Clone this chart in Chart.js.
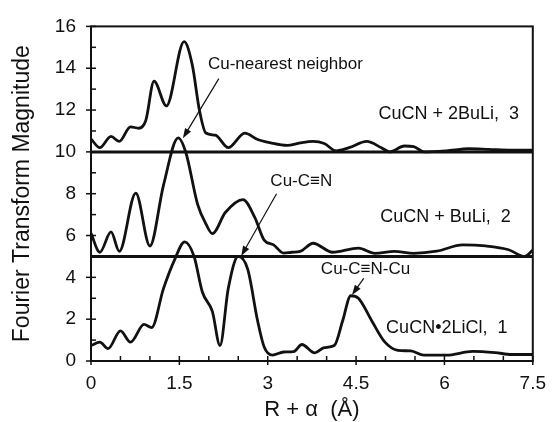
<!DOCTYPE html>
<html>
<head>
<meta charset="utf-8">
<script src="https://cdn.jsdelivr.net/npm/chart.js@4.4.1/dist/chart.umd.min.js"></script>
<style>
  html, body { margin: 0; padding: 0; background: #fff; }
  #wrap { width: 557px; height: 422px; }
</style>
</head>
<body>
<div id="wrap"><canvas id="chart" width="557" height="422"></canvas></div>
<script>
// ── Data ───────────────────────────────────────────────────────────────
// 1: CuCN•2LiCl (baseline 0)
const r1 = [0, 0.15, 0.29, 0.5, 0.67, 0.9, 1.03, 1.23, 1.42, 1.59, 1.75, 1.89, 2.06, 2.19,
            2.33, 2.5, 2.66, 2.83, 2.94, 3.08, 3.27, 3.44, 3.58, 3.8, 3.96, 4.13, 4.27, 4.41,
            4.54, 4.77, 4.99, 5.21, 5.43, 5.65, 6.03, 6.48, 6.86, 7.14, 7.5];
const ft1 = [0.74, 0.9, 0.59, 1.44, 0.9, 1.75, 1.6, 3.46, 4.85, 5.7, 5.0, 3.3, 2.37, 0.74,
             3.46, 5.0, 4.39, 1.9, 0.67, 0.28, 0.43, 0.45, 0.79, 0.39, 0.64, 0.74, 1.9, 3.12,
             3.0, 1.9, 0.9, 0.51, 0.48, 0.28, 0.28, 0.46, 0.4, 0.31, 0.31];

// 2: CuCN + BuLi (baseline 5)
const r2 = [0, 0.15, 0.34, 0.48, 0.76, 1.0, 1.23, 1.48, 1.61, 1.81, 1.95, 2.06, 2.28, 2.58,
            2.78, 2.94, 3.1, 3.27, 3.41, 3.55, 3.77, 4.1, 4.54, 4.82, 5.15, 5.48, 5.87, 6.31,
            6.7, 7.09, 7.36, 7.5];
const ft2 = [6.1, 5.2, 6.17, 5.24, 8.03, 5.5, 8.4, 10.67, 9.97, 7.49, 6.56, 6.09, 7.1, 7.72,
             6.87, 5.78, 5.55, 5.16, 5.2, 5.24, 5.63, 5.2, 5.4, 5.15, 5.24, 5.15, 5.25, 5.55,
             5.5, 5.32, 5.0, 5.3];

// 3: CuCN + 2BuLi (baseline 10)
const r3 = [0, 0.15, 0.34, 0.48, 0.67, 0.81, 0.93, 1.07, 1.28, 1.58, 1.72, 1.84, 1.95, 2.11,
            2.33, 2.61, 2.83, 3.05, 3.33, 3.55, 3.77, 3.96, 4.16, 4.38, 4.68, 4.93, 5.07, 5.32,
            5.48, 5.65, 6.03, 6.42, 6.75, 7.14, 7.5];
const ft3 = [10.62, 10.2, 10.74, 10.5, 11.2, 11.13, 11.5, 13.38, 12.2, 15.27, 14.15, 12.0, 10.9, 10.8,
             10.2, 10.9, 10.59, 10.43, 10.31, 10.43, 10.5, 10.4, 10.05, 10.2, 10.5, 10.2, 10.0, 10.28,
             10.25, 10.0, 10.05, 10.15, 10.12, 10.08, 10.08];

const baselines = [5, 10];
const xTickLabels = [0, 1.5, 3, 4.5, 6, 7.5];
const yTickLabels = [0, 2, 4, 6, 8, 10, 12, 14, 16];

const seriesLabels = ["CuCN\u20222LiCl,  1", "CuCN + BuLi,  2", "CuCN + 2BuLi,  3"];
const seriesLabelAt = [[5.01, 1.58], [4.91, 6.88], [4.88, 11.81]];

const notes = ["Cu-nearest neighbor", "Cu-C\u2261N", "Cu-C\u2261N-Cu"];
const noteAt = [[3.30, 14.19], [3.57, 8.6], [4.66, 4.37]];
const arrowFrom = [[2.17, 13.5], [3.15, 8.0], [4.63, 3.95]];
const arrowTo = [[1.56, 10.65], [2.55, 5.02], [4.43, 3.16]];

// ── Helpers ────────────────────────────────────────────────────────────
const INK = "#111";
const FONT = "'Liberation Sans', Arial, Helvetica, sans-serif";
const pts = (xs, ys) => xs.map((v, i) => ({ x: v, y: ys[i] }));
const isIn = (list, v) => list.some((l) => Math.abs(l - v) < 1e-6);

const curve = (xs, ys) => ({
  data: pts(xs, ys),
  borderColor: INK,
  borderWidth: 2.8,
  pointRadius: 0,
  cubicInterpolationMode: "monotone",
  fill: false,
});

const flat = (b) => ({
  data: [{ x: 0, y: b }, { x: 7.5, y: b }],
  borderColor: INK,
  borderWidth: 3,
  pointRadius: 0,
  fill: false,
});

// ── Frame, inward ticks, labels and arrows ────────────────────────────
const decor = {
  id: "decor",
  afterDraw(chart) {
    const { ctx, chartArea: a, scales: { x, y } } = chart;
    ctx.save();
    ctx.strokeStyle = INK;
    ctx.fillStyle = INK;

    ctx.lineWidth = 2;
    ctx.strokeRect(a.left, a.top, a.right - a.left, a.bottom - a.top);

    ctx.lineWidth = 1.5;
    x.ticks.forEach((t) => {
      const px = x.getPixelForValue(t.value);
      const major = isIn(xTickLabels, t.value);
      ctx.beginPath();
      ctx.moveTo(px, a.bottom + (major ? 4 : 0));
      ctx.lineTo(px, a.bottom - 5);
      ctx.stroke();
    });
    y.ticks.forEach((t) => {
      const py = y.getPixelForValue(t.value);
      const major = isIn(yTickLabels, t.value);
      ctx.beginPath();
      ctx.moveTo(a.left - (major ? 5 : 0), py);
      ctx.lineTo(a.left + 5, py);
      ctx.stroke();
    });

    ctx.textBaseline = "middle";
    ctx.font = `18px ${FONT}`;
    ctx.textAlign = "left";
    seriesLabels.forEach((s, i) => {
      ctx.fillText(s, x.getPixelForValue(seriesLabelAt[i][0]), y.getPixelForValue(seriesLabelAt[i][1]));
    });

    ctx.font = `17px ${FONT}`;
    ctx.textAlign = "center";
    notes.forEach((s, i) => {
      ctx.fillText(s, x.getPixelForValue(noteAt[i][0]), y.getPixelForValue(noteAt[i][1]));
    });

    ctx.lineWidth = 1.2;
    arrowFrom.forEach((f, i) => {
      const x0 = x.getPixelForValue(f[0]), y0 = y.getPixelForValue(f[1]);
      const x1 = x.getPixelForValue(arrowTo[i][0]), y1 = y.getPixelForValue(arrowTo[i][1]);
      const ang = Math.atan2(y1 - y0, x1 - x0);
      const L = 10, W = 3.5;
      ctx.beginPath();
      ctx.moveTo(x0, y0);
      ctx.lineTo(x1 - Math.cos(ang) * L * 0.8, y1 - Math.sin(ang) * L * 0.8);
      ctx.stroke();
      ctx.beginPath();
      ctx.moveTo(x1, y1);
      ctx.lineTo(x1 - Math.cos(ang) * L + Math.sin(ang) * W, y1 - Math.sin(ang) * L - Math.cos(ang) * W);
      ctx.lineTo(x1 - Math.cos(ang) * L - Math.sin(ang) * W, y1 - Math.sin(ang) * L + Math.cos(ang) * W);
      ctx.closePath();
      ctx.fill();
    });
    ctx.restore();
  },
};

// ── Chart ──────────────────────────────────────────────────────────────
new Chart(document.getElementById("chart"), {
  type: "line",
  data: {
    datasets: [
      curve(r1, ft1),
      curve(r2, ft2),
      curve(r3, ft3),
      ...baselines.map(flat),
    ],
  },
  options: {
    responsive: false,
    devicePixelRatio: 1,
    animation: false,
    layout: { padding: { top: 17, right: 14, left: 0, bottom: 0 } },
    plugins: { legend: { display: false }, tooltip: { enabled: false } },
    scales: {
      x: {
        type: "linear",
        min: 0,
        max: 7.5,
        grid: { display: false, drawTicks: false },
        border: { display: false },
        afterFit: (s) => { s.height = 61; },
        ticks: {
          stepSize: 0.5,
          autoSkip: false,
          maxRotation: 0,
          padding: 11,
          color: INK,
          font: { family: FONT, size: 19 },
          callback: (v) => (isIn(xTickLabels, v) ? String(v) : ""),
        },
        title: {
          display: true,
          text: "R + \u03B1  (\u00C5)",
          color: INK,
          font: { family: FONT, size: 22, lineHeight: 1 },
          padding: { top: 0, bottom: 1 },
        },
      },
      y: {
        min: 0,
        max: 16,
        grid: { display: false, drawTicks: false },
        border: { display: false },
        afterFit: (s) => { s.width = 91; },
        ticks: {
          stepSize: 1,
          autoSkip: false,
          padding: 15,
          color: INK,
          font: { family: FONT, size: 19 },
          callback: (v) => (isIn(yTickLabels, v) ? String(v) : ""),
        },
        title: {
          display: true,
          text: "Fourier Transform Magnitude",
          color: INK,
          font: { family: FONT, size: 23, lineHeight: 1 },
          padding: { top: 11, bottom: 0 },
        },
      },
    },
  },
  plugins: [decor],
});
</script>
</body>
</html>
